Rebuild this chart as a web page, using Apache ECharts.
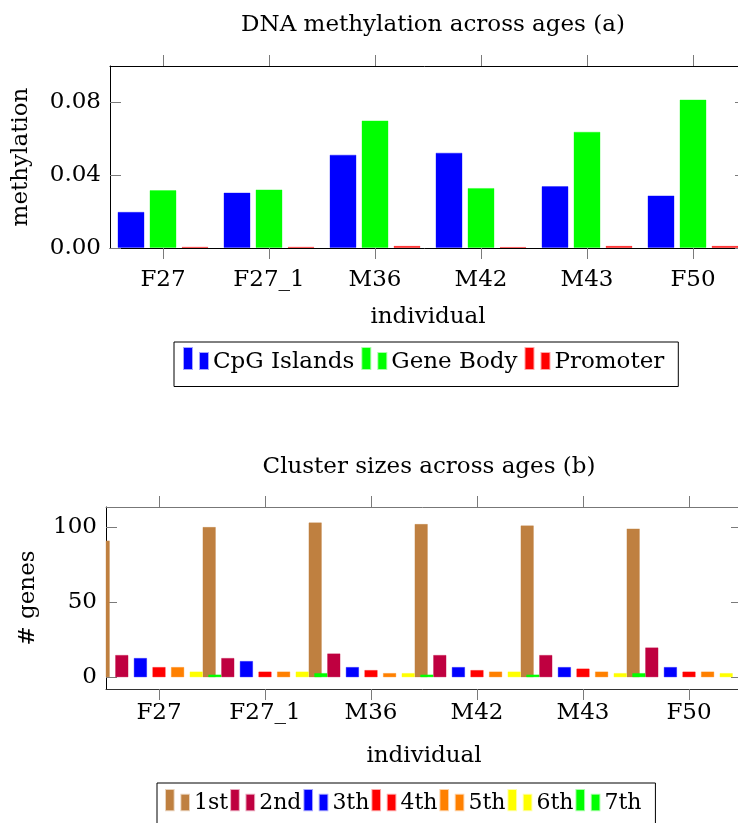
<!DOCTYPE html>
<html>
<head>
<meta charset="utf-8">
<script src="https://cdn.jsdelivr.net/npm/echarts@6/dist/echarts.min.js"></script>
<style>
    html, body { margin: 0; padding: 0; background: #fff; }
    #chart { width: 738px; height: 823px; }
</style>
</head>
<body>
<div id="chart"></div>
<script>
    // data
    const individuals = ['F27', 'F27_1', 'M36', 'M42', 'M43', 'F50'];

    const cpgIslands = [0.0199, 0.0305, 0.0513, 0.0524, 0.034, 0.0289];
    const geneBody = [0.0318, 0.0322, 0.0701, 0.033, 0.0639, 0.0816];
    const promoter = [0.0007, 0.0007, 0.0012, 0.0006, 0.0012, 0.0012];
    const methTicks = [0, 0.04, 0.08];

    const clusterNames = ['1st', '2nd', '3th', '4th', '5th', '6th', '7th'];
    const cluster1st = [91, 100, 103, 102, 101, 99];
    const cluster2nd = [15, 13, 16, 15, 15, 20];
    const cluster3th = [13, 11, 7, 7, 7, 7];
    const cluster4th = [7, 4, 5, 5, 6, 4];
    const cluster5th = [7, 4, 3, 4, 4, 4];
    const cluster6th = [4, 4, 3, 4, 3, 3];
    const cluster7th = [2, 3, 2, 2, 3, 2];
    const geneTicks = [0, 50, 100];

    const font = "'DejaVu Serif', serif";
    const tickColor = '#7a7a7a';
    const legendIcon = 'path://M0,0h8v21h-8z M16,5h8v16h-8z';

    const myChart = echarts.init(document.getElementById('chart'));

    function bar(name, data, color, border, axis, width, gap) {
        return {
            name: name,
            type: 'bar',
            data: data,
            xAxisIndex: axis,
            yAxisIndex: axis,
            barWidth: width,
            barGap: gap,
            itemStyle: {color: color, borderColor: border, borderWidth: 1}
        };
    }

    const clusterColors = [
        ['#bf8040', 'rgba(191,128,64,0.35)'],
        ['#bf0040', 'rgba(191,0,64,0.35)'],
        ['#0000ff', 'rgba(0,0,255,0.35)'],
        ['#ff0000', 'rgba(255,0,0,0.35)'],
        ['#ff8000', 'rgba(255,128,0,0.35)'],
        ['#ffff00', 'rgba(255,255,0,0.35)'],
        ['#00ff00', 'rgba(0,255,0,0.35)']
    ];
    const clusterData = [cluster1st, cluster2nd, cluster3th, cluster4th, cluster5th, cluster6th, cluster7th];

    const labelStyle = {fontFamily: font, fontSize: 23, color: '#000'};

    function catAxis(grid, pos, lineColor, showLabel, margin, gap) {
        return {
            type: 'category',
            gridIndex: grid,
            position: pos,
            data: individuals,
            boundaryGap: true,
            axisLine: {show: true, onZero: false, lineStyle: {color: lineColor, width: 1}},
            axisTick: {show: true, alignWithLabel: true, inside: false, length: 11, lineStyle: {color: tickColor, width: 1}},
            axisLabel: Object.assign({show: showLabel, margin: margin}, labelStyle),
            name: showLabel ? 'individual' : '',
            nameLocation: 'middle',
            nameGap: gap,
            nameTextStyle: labelStyle,
            splitLine: {show: false}
        };
    }

    function valAxis(grid, pos, min, max, ticks, fmt, showLabel, name, gap) {
        return {
            type: 'value',
            gridIndex: grid,
            position: pos,
            min: min,
            max: max,
            axisLine: {show: true, onZero: false, lineStyle: {color: '#000', width: 1}},
            axisTick: {show: true, inside: true, length: 11, customValues: ticks, lineStyle: {color: tickColor}},
            axisLabel: Object.assign({show: showLabel, margin: 9, customValues: ticks, formatter: fmt}, labelStyle),
            splitLine: {show: false},
            name: name,
            nameLocation: 'middle',
            nameGap: gap,
            nameTextStyle: labelStyle
        };
    }

    const series = [
        bar('CpG Islands', cpgIslands, '#0000ff', 'rgba(0,0,255,0.35)', 0, 27, '18.5%'),
        bar('Gene Body', geneBody, '#00ff00', 'rgba(0,255,0,0.35)', 0, 27, '18.5%'),
        bar('Promoter', promoter, '#ff0000', 'rgba(255,0,0,0.35)', 0, 27, '18.5%')
    ];
    clusterNames.forEach(function (n, i) {
        series.push(bar(n, clusterData[i], clusterColors[i][0], clusterColors[i][1], 2, 13.5, '37.8%'));
    });

    const option = {
        animation: false,
        title: [
            {text: 'DNA methylation across ages (a)', left: 428, top: 9, textAlign: 'center',
                textStyle: {fontFamily: font, fontSize: 23, fontWeight: 'normal', color: '#000'}},
            {text: 'Cluster sizes across ages (b)', left: 424, top: 451, textAlign: 'center',
                textStyle: {fontFamily: font, fontSize: 23, fontWeight: 'normal', color: '#000'}}
        ],
        legend: [
            {
                data: ['CpG Islands', 'Gene Body', 'Promoter'],
                left: 174, top: 342,
                padding: [5, 14, 13, 9],
                itemWidth: 24, itemHeight: 21, itemGap: 7,
                icon: legendIcon,
                borderColor: '#000', borderWidth: 1,
                formatter: '{t|{name}}',
                textStyle: Object.assign({rich: {t: Object.assign({padding: [7, 0, 0, 0]}, labelStyle)}}, labelStyle),
                selectedMode: false
            },
            {
                data: clusterNames,
                left: 157, top: 783,
                padding: [6, 14, 12, 8],
                itemWidth: 23, itemHeight: 22, itemGap: 2,
                icon: legendIcon,
                borderColor: '#000', borderWidth: 1,
                formatter: '{t|{name}}',
                textStyle: {fontFamily: font, fontSize: 22, color: '#000',
                    rich: {t: {fontFamily: font, fontSize: 22, color: '#000', padding: [7, 0, 0, 0]}}},
                selectedMode: false
            }
        ],
        grid: [
            {left: 110, top: 66, width: 636, height: 182, outerBoundsMode: 'none'},
            {left: 106, top: 507, width: 636, height: 182, outerBoundsMode: 'none'}
        ],
        xAxis: [
            catAxis(0, 'bottom', '#000', true, 21, 58),
            catAxis(0, 'top', '#000', false, 8, 0),
            catAxis(1, 'bottom', '#333', true, 13, 56),
            catAxis(1, 'top', '#777', false, 8, 0)
        ],
        yAxis: [
            valAxis(0, 'left', 0, 0.1, methTicks, function (v) { return v.toFixed(2); }, true, 'methylation', 77),
            valAxis(0, 'right', 0, 0.1, methTicks, null, false, '', 0),
            valAxis(1, 'left', -7.7, 113.2, geneTicks, null, true, '# genes', 66),
            valAxis(1, 'right', -7.7, 113.2, geneTicks, null, false, '', 0)
        ],
        series: series
    };
    myChart.setOption(option);
</script>
</body>
</html>
